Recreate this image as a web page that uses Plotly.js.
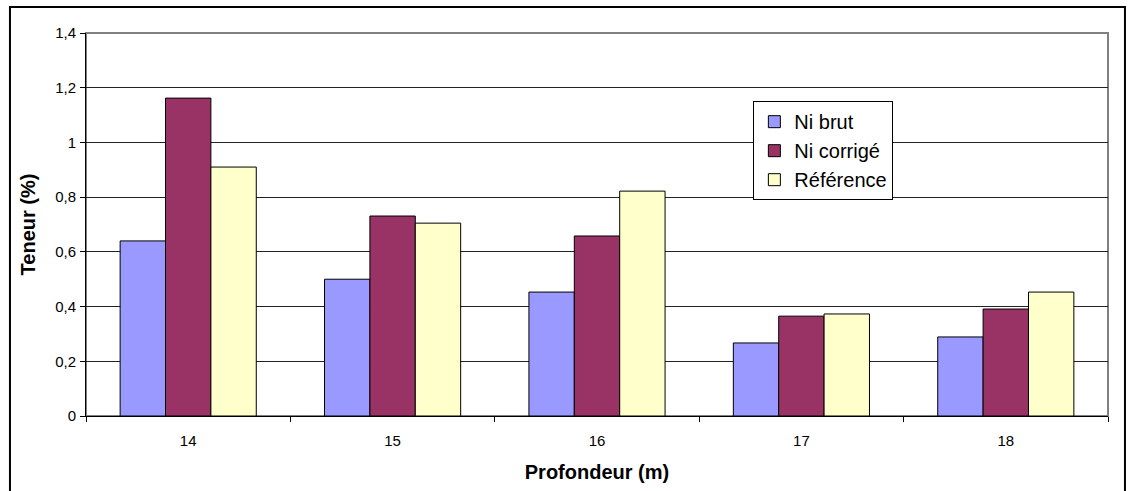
<!DOCTYPE html>
<html>
<head>
<meta charset="utf-8">
<script src="https://cdn.plot.ly/plotly-3.0.1.min.js"></script>
<style>
html,body{margin:0;padding:0;background:#fff;}
#chart{width:1128px;height:491px;}
</style>
</head>
<body>
<div id="chart"></div>
<script>
const categories = ["14", "15", "16", "17", "18"];
const niBrut = [0.64, 0.50, 0.453, 0.267, 0.289];
const niCorrige = [1.162, 0.731, 0.658, 0.365, 0.391];
const reference = [0.91, 0.705, 0.822, 0.373, 0.453];
const yTickVals = [0, 0.2, 0.4, 0.6, 0.8, 1, 1.2, 1.4];
const yTickLabels = ["0", "0,2", "0,4", "0,6", "0,8", "1", "1,2", "1,4"];

const font = "Liberation Sans, Arial, sans-serif";
const line = {color: "#000", width: 1};
const traces = [
  {type: "bar", name: "Ni brut", x: categories, y: niBrut, marker: {color: "#9999FF", line: line}},
  {type: "bar", name: "Ni corrigé", x: categories, y: niCorrige, marker: {color: "#993366", line: line}},
  {type: "bar", name: "Référence", x: categories, y: reference, marker: {color: "#FFFFCC", line: line}}
];

const layout = {
  width: 1128, height: 491,
  margin: {l: 86, r: 20, t: 33, b: 75},
  paper_bgcolor: "#fff", plot_bgcolor: "#fff",
  font: {family: font, color: "#000", size: 15},
  barmode: "group", bargap: 0.334, bargroupgap: 0,
  showlegend: true,
  legend: {
    x: 0.653, y: 0.822, xanchor: "left", yanchor: "top",
    bgcolor: "#fff", bordercolor: "#000", borderwidth: 1,
    font: {family: font, size: 20, color: "#000"},
    tracegroupgap: 0
  },
  xaxis: {
    type: "category",
    showline: true, linecolor: "#000", linewidth: 1,
    ticks: "outside", tickson: "boundaries", ticklen: 5, tickcolor: "#000",
    ticklabelstandoff: 11,
    showgrid: false, zeroline: false,
    tickfont: {family: font, size: 15, color: "#000"},
    title: {text: "<b>Profondeur (m)</b>", font: {family: font, size: 20, color: "#000"}, standoff: 16}
  },
  yaxis: {
    range: [0, 1.4],
    tickvals: yTickVals, ticktext: yTickLabels,
    showline: true, linecolor: "#000", linewidth: 1,
    ticks: "outside", ticklen: 5, tickcolor: "#000",
    ticklabelstandoff: 1,
    showgrid: true, gridcolor: "#222", gridwidth: 1,
    zeroline: false,
    tickfont: {family: font, size: 15, color: "#000"},
    title: {text: "<b>Teneur (%)</b>", font: {family: font, size: 20, color: "#000"}, standoff: 14}
  },
  shapes: [
    {type: "rect", xref: "paper", yref: "paper", x0: 0, x1: 1, y0: 0, y1: 1,
     line: {color: "#808080", width: 2}, layer: "below"},
    {type: "rect", xref: "paper", yref: "paper", x0: -0.0744, x1: 1.0166, y0: -0.25, y1: 1.068,
     line: {color: "#000", width: 2}, layer: "above"}
  ]
};

Plotly.newPlot("chart", traces, layout, {displayModeBar: false, staticPlot: true});
</script>
</body>
</html>
